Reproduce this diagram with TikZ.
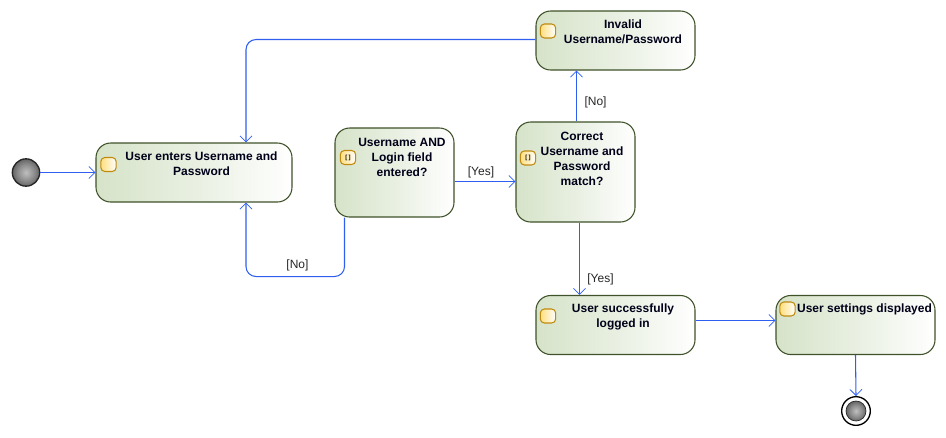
\documentclass[tikz,border=0pt]{standalone}
\usepackage{fontspec}
\setmainfont{Liberation Sans}
\usetikzlibrary{arrows.meta,calc}
\definecolor{boxedge}{HTML}{3F5229}
\definecolor{boxleft}{HTML}{D6E3C9}
\definecolor{flow}{HTML}{2F5FF0}
\definecolor{iconedge}{HTML}{C08A10}
\definecolor{iconfill}{HTML}{FFD966}
\pgfdeclareradialshading{ballshade}{\pgfpointorigin}{color(0bp)=(black!25); color(15bp)=(black!45); color(30bp)=(black!68); color(50bp)=(black!85)}
\tikzset{
  actbox/.style={draw=boxedge,line width=0.8pt,rounded corners=11pt,inner sep=0pt,left color=boxleft,right color=white,middle color=boxleft!55!white},
  acttext/.style={font=\fontsize{9}{11.25}\selectfont\bfseries,align=center,inner sep=0pt,text=black!90!blue},
  flowline/.style={draw=flow,line width=0.8pt,rounded corners=7.5pt,-{Straight Barb[length=4.5pt,width=9pt,line width=0.6pt]}},
  guard/.style={font=\fontsize{9}{11}\selectfont,inner sep=0pt,text=black!85},
  acticon/.style={rectangle,rounded corners=3pt,draw=iconedge,line width=0.8pt,minimum width=11.5pt,minimum height=10.5pt,inner sep=0pt,left color=iconfill!85!white,right color=white,font=\fontsize{4.5}{5}\selectfont\bfseries},
  ball/.style={circle,draw=black!85,line width=1pt,inner sep=0pt,minimum size=20.5pt,shading=ballshade},
}
\begin{document}
\begin{tikzpicture}[x=0.75pt,y=-0.75pt]
\useasboundingbox (0,0) rectangle (946,437);
\node[ball] (start) at (26,172.5) {};
\node[actbox,minimum width=147pt,minimum height=44.25pt] (A) at (194,172.5) {};
\node[actbox,minimum width=89.25pt,minimum height=66.75pt] (B) at (394.5,172.5) {};
\node[actbox,minimum width=89.25pt,minimum height=75pt] (C) at (575.5,172) {};
\node[actbox,minimum width=119.25pt,minimum height=44.25pt] (D) at (615.5,40.5) {};
\node[actbox,minimum width=119.25pt,minimum height=44.25pt] (E) at (615.5,325) {};
\node[actbox,minimum width=119.25pt,minimum height=44.25pt] (F) at (855.5,325) {};
\node[circle,draw=black,line width=1pt,fill=white,inner sep=0pt,minimum size=21.5pt] (end) at (856,411) {};
\node[ball,minimum size=15pt,line width=0.5pt] (endball) at (856,411) {};
\node[acttext] (tA) at (201.5,164) {User enters Username and\\Password};
\node[acttext] (tB) at (402,157.5) {Username AND\\Login field\\entered?};
\node[acttext] (tC) at (582,159) {Correct\\Username and\\Password\\match?};
\node[acttext] (tD) at (623,32) {Invalid\\Username/Password};
\node[acttext] (tE) at (623,317) {User successfully\\logged in};
\node[acttext] (tF) at (864.5,309.5) {User settings displayed};
\node[acticon] (iA) at (108.5,164.5) {};
\node[acticon] (iB) at (348,157.5) {[\hspace{0.9pt}]};
\node[acticon] (iC) at (528,158) {[\hspace{0.9pt}]};
\node[acticon] (iD) at (548,31) {};
\node[acticon] (iE) at (548,316) {};
\node[acticon] (iF) at (787.5,309) {};
\draw[flowline] (start.east) -- (A.west);
\draw[flowline] ([shift={(0,9)}]B.east) -- ([shift={(0,9.5)}]C.west);
\draw[flowline] (C.north -| 576.5,0) -- (D.south -| 576.5,0);
\draw[flowline] ([shift={(4,0)}]C.south) -- ([shift={(-36,0)}]E.north);
\draw[flowline] ([shift={(0,-4.5)}]E.east) -- ([shift={(0,-4.5)}]F.west);
\draw[flowline] (F.south) -- (end.north);
\draw[flowline] ([shift={(0,-1)}]D.west) -- ($(A.north |- D.west)+(52,-1)$) -- ([shift={(52,0)}]A.north);
\draw[flowline] ([shift={(-50,0)}]B.south) -- ++(0,59) -- ($(A.south)+(52,74)$) -- ([shift={(52,0)}]A.south);
\node[guard] (gYes) at (481,172) {[Yes]};
\node[guard] (gNo) at (297.5,265) {[No]};
\node[guard] (gNoC) at (595.5,102.5) {[No]};
\node[guard] (gYesC) at (600.5,279) {[Yes]};
\end{tikzpicture}
\end{document}
